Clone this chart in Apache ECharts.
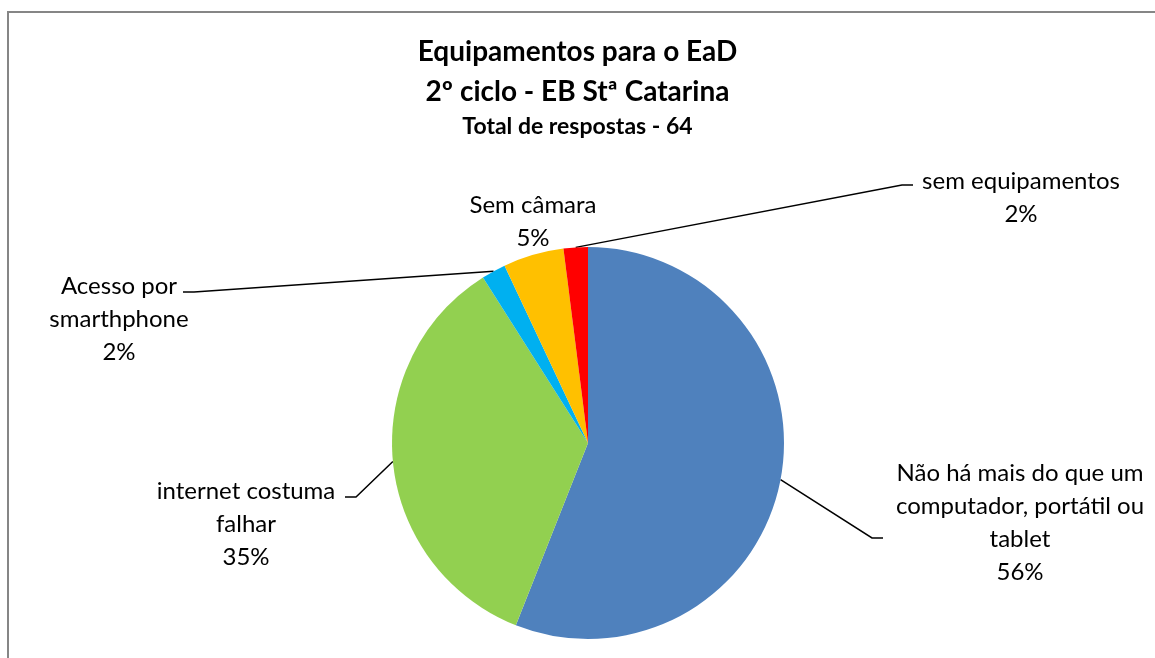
<!DOCTYPE html>
<html>
<head>
<meta charset="utf-8">
<script src="https://cdn.jsdelivr.net/npm/echarts@6/dist/echarts.min.js"></script>
<style>
  html, body { margin: 0; padding: 0; background: #fff; }
  #chart { width: 1155px; height: 658px; }
</style>
</head>
<body>
<div id="chart"></div>
<script>
// categories (line breaks as in the original labels)
const categories = [
  "Não há mais do que um\ncomputador, portátil ou\ntablet",
  "internet costuma\nfalhar",
  "Acesso por\nsmarthphone",
  "Sem câmara",
  "sem equipamentos"
];
const values = [56, 35, 2, 5, 2];
const colors = ["#4F81BD", "#92D050", "#00B0F0", "#FFC000", "#FF0000"];

// where each label sits: text centre x, top y, and where the leader line meets it
const labelPos = [
  { x: 1020, y: 457, lineX: 883, lineY: 538, side: -1 },
  { x: 246, y: 475, lineX: 345, lineY: 497, side: 1 },
  { x: 119, y: 270, lineX: 183, lineY: 292, side: 1 },
  { x: 533, y: 189, lineX: null, lineY: null, side: 0 },
  { x: 1021, y: 165, lineX: 913, lineY: 185, side: -1 }
];

const chart = echarts.init(document.getElementById("chart"));

chart.setOption({
  animation: false,
  textStyle: { fontFamily: "Lato" },
  title: {
    text: "Equipamentos para o EaD\n2º ciclo - EB Stª Catarina",
    subtext: "Total de respostas - 64",
    left: "center",
    top: 32,
    padding: 0,
    itemGap: 3,
    textStyle: {
      fontFamily: "Lato",
      fontSize: 28,
      fontWeight: "bold",
      color: "#000",
      lineHeight: 40
    },
    subtextStyle: {
      fontFamily: "Lato",
      fontSize: 23,
      fontWeight: "bold",
      color: "#000",
      lineHeight: 24
    }
  },
  graphic: [
    {
      type: "polyline",
      shape: { points: [[8, 700], [8, 12], [1200, 12]] },
      style: { stroke: "#868686", lineWidth: 2, fill: null },
      silent: true
    }
  ],
  series: [
    {
      type: "pie",
      center: [588, 443],
      radius: 196,
      startAngle: 90,
      clockwise: true,
      data: categories.map((name, i) => ({
        name: name,
        value: values[i],
        itemStyle: { color: colors[i] },
        labelLine: { show: i !== 3 }
      })),
      label: {
        show: true,
        position: "outside",
        formatter: "{b}\n{d}%",
        fontFamily: "Lato",
        fontSize: 24,
        lineHeight: 33,
        color: "#000",
        align: "center"
      },
      labelLine: {
        show: true,
        lineStyle: { color: "#000", width: 1.5 }
      },
      labelLayout: function (params) {
        const p = labelPos[params.dataIndex];
        const out = { x: p.x, y: p.y, align: "center", verticalAlign: "top" };
        if (p.lineX !== null && params.labelLinePoints) {
          const start = params.labelLinePoints[0];
          const elbowX = p.lineX + p.side * 11;
          out.labelLinePoints = [start, [elbowX, p.lineY], [p.lineX, p.lineY]];
        }
        return out;
      }
    }
  ]
});
</script>
</body>
</html>
